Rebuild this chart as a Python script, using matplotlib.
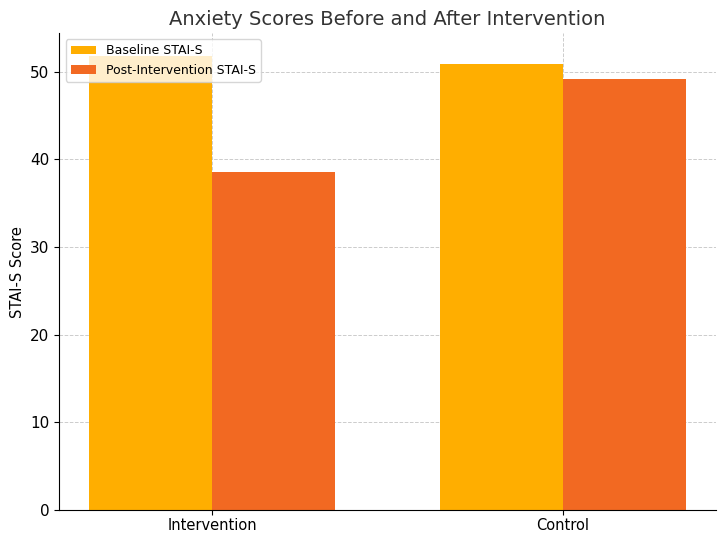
import numpy as np
import matplotlib.pyplot as plt

groups = ['Intervention', 'Control']
baseline = [51.8, 50.9]
post = [38.6, 49.2]

x = np.arange(len(groups))
width = 0.35

fig, ax = plt.subplots(figsize=(7.23, 5.33), dpi=100)
fig.subplots_adjust(left=0.082, right=0.99, bottom=0.043, top=0.938)

ax.bar(x - width / 2, baseline, width, label='Baseline STAI-S', color='#FFAE00')
ax.bar(x + width / 2, post, width, label='Post-Intervention STAI-S', color='#F26922')

ax.set_xticks(x)
ax.set_xticklabels(groups, fontsize=10.5)
ax.tick_params(axis='x', pad=2)
ax.tick_params(axis='y', labelsize=11)
ax.set_ylabel('STAI-S Score', fontsize=10.5)
ax.set_title('Anxiety Scores Before and After Intervention', fontsize=14, color='#333333')
ax.grid(True, linestyle='--', color='#cccccc', linewidth=0.7)
ax.set_axisbelow(True)
for side in ['top', 'right']:
    ax.spines[side].set_visible(False)
ax.legend(loc='upper left', fontsize=9)

plt.savefig('out.png')
